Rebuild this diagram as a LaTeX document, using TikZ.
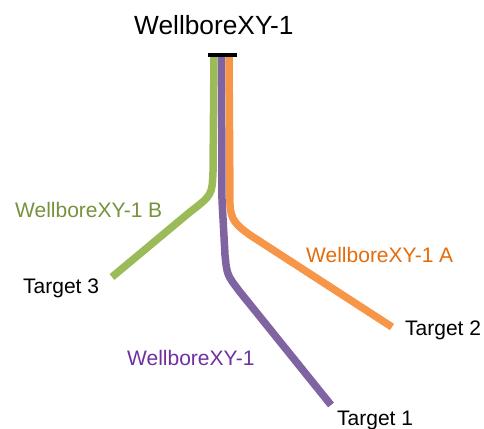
\documentclass[tikz,border=0pt]{standalone}
\usepackage{fontspec}
\setmainfont{Liberation Sans}
\definecolor{gline}{HTML}{9BBB59}
\definecolor{gtext}{HTML}{76923C}
\definecolor{oline}{HTML}{F79646}
\definecolor{otext}{HTML}{E46C0A}
\definecolor{pline}{HTML}{8064A2}
\definecolor{ptext}{HTML}{7030A0}
\begin{document}
\begin{tikzpicture}[x=1pt,y=-1pt,
  lbl/.style={inner sep=0pt,anchor=base west,font=\fontsize{21}{25}\selectfont},
  well/.style={line width=7.5pt,line cap=butt,line join=round}]
\useasboundingbox (0,0) rectangle (484,428);
\node[inner sep=0pt,anchor=base west,font=\fontsize{26.3}{31}\selectfont] (title) at (134,35) {WellboreXY-1};
\node[lbl,text=gtext] (lb) at (15,217) {WellboreXY-1 B};
\node[lbl,text=otext] (la) at (306,262) {WellboreXY-1 A};
\node[lbl,text=ptext] (lp) at (127,365) {WellboreXY-1};
\node[lbl] (t3) at (23,293) {Target 3};
\node[lbl] (t2) at (405,335) {Target 2};
\node[lbl] (t1) at (337,425) {Target 1};
\coordinate (gs) at (214,57);
\coordinate (ps) at (221.5,57);
\coordinate (os) at (229,57);
\coordinate (ge) at (112,277);
\coordinate (pe) at (331,405);
\coordinate (oe) at (392,327);
\draw[well,gline] (gs) -- (213,172) .. controls (212,195) .. (190,212) -- (ge);
\draw[well,pline] (ps) -- (222,200) -- (225,255) .. controls (227,275) .. (240,292) -- (pe);
\draw[well,oline] (os) -- (230,205) .. controls (231,220) and (236,225) .. (250,235) -- (oe);
\coordinate (bl) at (208,55);
\coordinate (br) at (237,55);
\draw[line width=4pt] (bl) -- (br);
\end{tikzpicture}
\end{document}
